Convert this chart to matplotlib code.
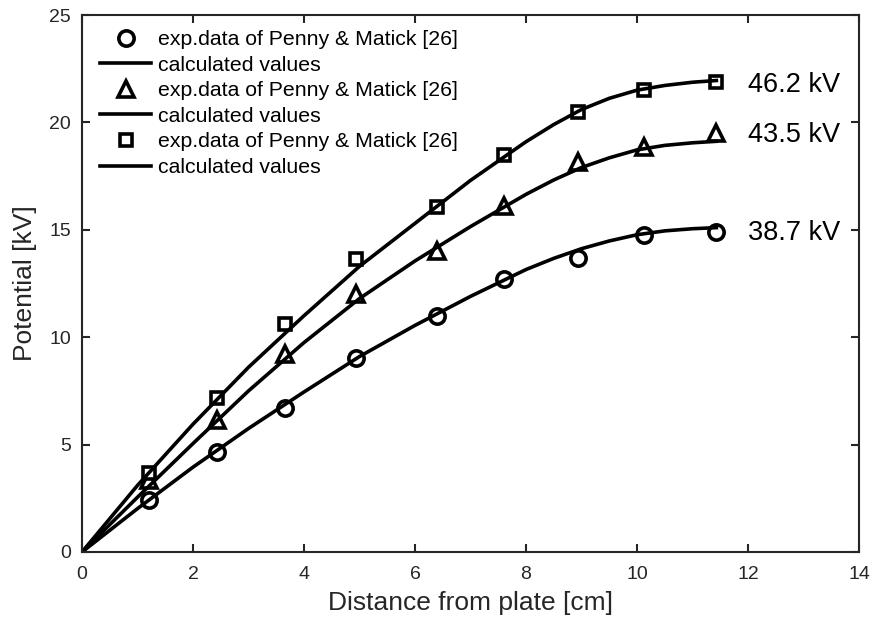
import numpy as np
import matplotlib
matplotlib.use("Agg")
import matplotlib.pyplot as plt

plt.rcParams['font.family'] = ['Liberation Sans', 'DejaVu Sans']

# measured points (Penny & Matick)
x_exp = [1.21, 2.44, 3.65, 4.94, 6.39, 7.61, 8.94, 10.12, 11.43]
v_387 = [2.44, 4.66, 6.70, 9.01, 11.0, 12.69, 13.70, 14.75, 14.9]
v_435 = [3.34, 6.13, 9.24, 11.99, 14.0, 16.1, 18.17, 18.87, 19.49]
v_462 = [3.70, 7.15, 10.6, 13.66, 16.05, 18.48, 20.5, 21.5, 21.86]

# calculated curves
x_calc = [0, 1, 2, 3, 4, 5, 6, 7, 8, 8.5, 9, 9.5, 10, 10.5, 11, 11.43]
c_387 = [0, 2.02, 3.95, 5.75, 7.45, 9.1, 10.55, 11.9, 13.15, 13.67, 14.12,
         14.48, 14.77, 14.95, 15.05, 15.1]
c_435 = [0, 2.55, 5.05, 7.5, 9.75, 11.8, 13.55, 15.15, 16.65, 17.32, 17.9,
         18.35, 18.72, 18.93, 19.05, 19.12]
c_462 = [0, 3.1, 5.95, 8.6, 11.0, 13.3, 15.3, 17.3, 19.1, 19.9, 20.6,
         21.12, 21.5, 21.72, 21.87, 21.95]

voltage_labels = ['38.7 kV', '43.5 kV', '46.2 kV']
label_y = [14.87, 19.43, 21.75]

fig = plt.figure(figsize=(8.72, 6.21), dpi=100)
ax = fig.add_axes([82 / 872, 1 - 552 / 621, 777 / 872, 537 / 621])

lw = 2.6
exp_label = 'exp.data of Penny & Matick [26]'
ax.plot(x_exp, v_387, 'o', ms=11, mew=2.6, mfc='white', mec='black',
        ls='none', label=exp_label)
ax.plot(x_calc, c_387, 'k-', lw=lw, label='calculated values')
ax.plot(x_exp, v_435, '^', ms=12, mew=2.6, mfc='white', mec='black',
        ls='none', label=exp_label)
ax.plot(x_calc, c_435, 'k-', lw=lw, label='calculated values')
ax.plot(x_exp, v_462, 's', ms=8, mew=2.6, mfc='white', mec='black',
        ls='none', label=exp_label)
ax.plot(x_calc, c_462, 'k-', lw=lw, label='calculated values')

for txt, yy in zip(voltage_labels, label_y):
    ax.text(12.0, yy, txt, fontsize=19.5, va='center', ha='left', color='black')

ax.set_xlim(0, 14)
ax.set_ylim(0, 25)
ax.set_xticks(range(0, 15, 2))
ax.set_yticks(range(0, 26, 5))

grey = '#262626'
for s in ax.spines.values():
    s.set_linewidth(1.5)
    s.set_color(grey)
ax.tick_params(direction='in', length=6, width=1.5, colors=grey,
               labelsize=14, top=True, right=True)
ax.tick_params(axis='x', pad=10)
ax.tick_params(axis='y', pad=8)

ax.set_xlabel('Distance from plate [cm]', fontsize=19, color=grey, labelpad=6)
ax.set_ylabel('Potential [kV]', fontsize=19, color=grey, labelpad=9)

leg = ax.legend(loc='upper left', bbox_to_anchor=(100 / 872, 1 - 30 / 621),
                bbox_transform=fig.transFigure, frameon=False, fontsize=15.3,
                borderpad=0, borderaxespad=0, labelspacing=0.31,
                handlelength=2.4, handletextpad=0.35)

fig.savefig('out.png', dpi=100)
